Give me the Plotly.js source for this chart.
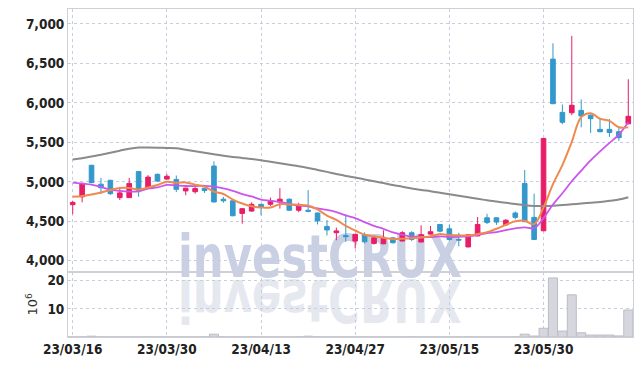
<!DOCTYPE html>
<html>
<head>
<meta charset="utf-8">
<script src="https://cdn.plot.ly/plotly-3.0.1.min.js"></script>
<style>
  html, body { margin:0; padding:0; background:#ffffff; }
  #wrap { position:relative; width:642px; height:366px; }
  #wm { position:absolute; left:0; top:0; z-index:0; }
  #chart { position:absolute; left:0; top:0; width:642px; height:366px; z-index:1; }
</style>
</head>
<body>
<div id="wrap">
<svg id="wm" width="642" height="366">
  <text x="178" y="277" font-family="'DejaVu Sans Condensed',sans-serif" font-weight="bold" font-size="58" fill="#c9d0e4" textLength="284" lengthAdjust="spacingAndGlyphs">investCRUX</text>
  <text x="178" y="277" transform="translate(0,557) scale(1,-1)" font-family="'DejaVu Sans Condensed',sans-serif" font-weight="bold" font-size="58" fill="#e6e8f0" textLength="284" lengthAdjust="spacingAndGlyphs">investCRUX</text>
</svg>
<div id="chart"></div>
</div>
<script>
const dates = ['23/03/16','23/03/17','23/03/20','23/03/21','23/03/22','23/03/23','23/03/24','23/03/27','23/03/28','23/03/29',
  '23/03/30','23/03/31','23/04/03','23/04/04','23/04/05','23/04/06','23/04/07','23/04/10','23/04/11','23/04/12',
  '23/04/13','23/04/14','23/04/17','23/04/18','23/04/19','23/04/20','23/04/21','23/04/24','23/04/25','23/04/26',
  '23/04/27','23/04/28','23/05/02','23/05/03','23/05/04','23/05/08','23/05/09','23/05/10','23/05/11','23/05/12',
  '23/05/15','23/05/16','23/05/17','23/05/18','23/05/19','23/05/22','23/05/23','23/05/24','23/05/25','23/05/26',
  '23/05/30','23/05/31','23/06/01','23/06/02','23/06/05','23/06/07','23/06/08','23/06/09','23/06/12','23/06/13'];

const openP  = [4710,4810,5210,4970,5020,4800,4800,5130,4925,5095, 5035,5030,4885,4875,4920,5200,4780,4760,4600,4630,
  4715,4715,4745,4780,4640,4640,4605,4435,4355,4320, 4250,4330,4220,4215,4290,4250,4355,4237,4338,4460,
  4405,4270,4175,4315,4545,4545,4455,4605,4980,4550, 4380,6555,5880,5875,5905,5845,5665,5665,5635,5735];
const highP  = [4760,4990,5215,5050,5025,4935,5050,5135,5085,5105, 5100,5080,4925,4955,4925,5260,4810,4765,4665,4740,
  4720,4800,4920,4790,4735,4895,4610,4515,4420,4585, 4340,4360,4320,4385,4300,4375,4375,4450,4440,4465,
  4460,4355,4335,4555,4595,4550,4530,4625,5150,4850, 5555,6755,5980,6850,6045,5855,5795,5795,5680,6300];
const lowP   = [4590,4740,4985,4845,4835,4770,4795,4810,4920,5000, 5030,4870,4830,4850,4860,4740,4735,4565,4470,4620,
  4575,4695,4660,4635,4615,4615,4460,4320,4260,4240, 4155,4220,4205,4210,4220,4245,4250,4235,4335,4360,
  4255,4185,4170,4310,4465,4455,4440,4525,4490,4265, 4375,5985,5730,5845,5690,5620,5630,5570,5520,5730];
const closeP = [4740,4980,4990,4925,4850,4860,4980,4890,5060,5010, 5070,4905,4920,4915,4890,4745,4760,4570,4660,4715,
  4675,4755,4780,4640,4695,4628,4505,4390,4378,4305, 4335,4240,4290,4288,4228,4355,4270,4330,4368,4375,
  4270,4262,4330,4460,4485,4490,4513,4550,4495,4270, 5550,5990,5755,5970,5835,5800,5635,5625,5560,5830];

const ma5  = [4810,4820,4840,4865,4897,4921,4921,4901,4928,4960, 5002,4987,4993,4964,4940,4875,4846,4776,4725,4690,
  4676,4675,4717,4713,4709,4700,4650,4572,4519,4441, 4383,4330,4310,4292,4276,4280,4286,4294,4310,4340,
  4323,4321,4321,4339,4361,4405,4456,4500,4507,4464, 4676,4971,5212,5507,5820,5870,5799,5773,5691,5690];
const ma10 = [4990,4978,4965,4935,4900,4885,4877,4880,4915,4929, 4962,4954,4947,4946,4950,4939,4917,4885,4845,4815,
  4776,4761,4747,4719,4700,4688,4662,4644,4616,4575, 4541,4490,4441,4405,4359,4331,4308,4302,4301,4308,
  4301,4304,4308,4325,4351,4364,4388,4410,4423,4413, 4541,4713,4856,5007,5142,5273,5385,5493,5599,5755];
const ma60 = [5283,5300,5321,5344,5369,5395,5420,5435,5435,5433, 5430,5426,5407,5388,5369,5350,5331,5316,5303,5290,
  5274,5255,5236,5217,5198,5176,5151,5126,5100,5075, 5055,5030,5008,4985,4959,4938,4916,4897,4881,4862,
  4843,4824,4805,4786,4766,4750,4735,4718,4703,4694, 4694,4697,4706,4716,4725,4735,4745,4760,4775,4805];

const volume = [0.05,0.05,0.3,0.05,0.05,0.05,0.05,0.05,0.05,0.05, 0.05,0.05,0.05,0.05,0.05,1.0,0.05,0.05,0.05,0.05,
  0.05,0.05,0.05,0.05,0.05,0.3,0.05,0.05,0.05,0.05, 0.05,0.05,0.05,0.05,0.05,0.05,0.05,0.05,0.05,0.05,
  0.05,0.05,0.05,0.05,0.05,0.05,0.05,0.05,1.0,0.35, 3.1,21.0,2.1,15.0,1.5,0.7,0.7,0.7,0.4,9.6];

const xTicks = ['23/03/16','23/03/30','23/04/13','23/04/27','23/05/15','23/05/30'];
const priceTicks = [4000,4500,5000,5500,6000,6500,7000];
const volTicks = [10,20];

const tickFont = {family:"'DejaVu Sans Condensed',sans-serif", size:13.5, color:'#222', weight:'bold'};
const gridC = '#c9cde0';
const lineC = '#cfcfd8';

const traces = [
  {type:'scatter', mode:'lines', x:dates, y:ma60, line:{color:'#8a8a8a', width:2, shape:'spline'}, xaxis:'x', yaxis:'y'},
  {type:'scatter', mode:'lines', x:dates, y:ma10, line:{color:'#cc55ee', width:1.8, shape:'spline'}, xaxis:'x', yaxis:'y'},
  {type:'scatter', mode:'lines', x:dates, y:ma5, line:{color:'#ef8a4e', width:2, shape:'spline'}, xaxis:'x', yaxis:'y'},
  {type:'candlestick', x:dates, open:openP, high:highP, low:lowP, close:closeP, xaxis:'x', yaxis:'y',
    increasing:{line:{color:'#e81d67', width:1}, fillcolor:'#e81d67'},
    decreasing:{line:{color:'#3398cb', width:1}, fillcolor:'#3398cb'}},
  {type:'bar', x:dates, y:volume, xaxis:'x', yaxis:'y2',
    marker:{color:'#d6d6de', line:{color:'#bdbdc8', width:1}}}
];

const layout = {
  width:642, height:366,
  margin:{l:68, r:9, t:9, b:29},
  paper_bgcolor:'rgba(0,0,0,0)', plot_bgcolor:'rgba(0,0,0,0)',
  showlegend:false, hovermode:false, bargap:0.04,
  xaxis:{type:'category', range:[-0.5,59.5], anchor:'y2', tickvals:xTicks, ticktext:xTicks,
    showgrid:true, gridcolor:gridC, griddash:'dot', gridwidth:1,
    showline:true, linecolor:lineC, mirror:'all', ticks:'', tickfont:tickFont,
    rangeslider:{visible:false}, zeroline:false},
  yaxis:{domain:[0.199,1], range:[3861,7190], tickvals:priceTicks, tickformat:',d',
    showgrid:true, gridcolor:gridC, griddash:'dot', showline:true, linecolor:lineC, mirror:true,
    ticks:'', tickfont:tickFont, zeroline:false},
  yaxis2:{domain:[0,0.199], range:[0,23.2], tickvals:volTicks,
    showgrid:true, gridcolor:gridC, griddash:'dot', showline:true, linecolor:lineC, mirror:true,
    ticks:'', tickfont:tickFont, zeroline:false,
    title:{text:'10<sup>6</sup>', font:{family:'DejaVu Sans, sans-serif', size:13, color:'#333'}, standoff:6}}
};

Plotly.newPlot('chart', traces, layout, {staticPlot:true, displayModeBar:false});
</script>
</body>
</html>
